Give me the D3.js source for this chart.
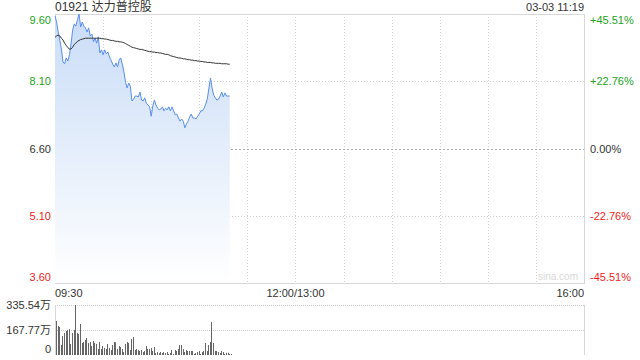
<!DOCTYPE html>
<html>
<head>
<meta charset="utf-8">
<script src="https://cdn.jsdelivr.net/npm/d3@7"></script>
<style>
  body { margin: 0; background: #fff; }
  text { font-family: "Liberation Sans", Arial, "Noto Sans CJK SC", sans-serif; }
</style>
</head>
<body>
<div id="canvas"></div>
<script>
const title = "01921 达力普控股";
const stamp = "03-03 11:19";
const prevClose = 6.60;

const priceTicks = [9.60, 8.10, 6.60, 5.10, 3.60];
const priceLabels = ["9.60", "8.10", "6.60", "5.10", "3.60"];
const pctLabels = ["+45.51%", "+22.76%", "0.00%", "-22.76%", "-45.51%"];
const volTicks = [335.54, 167.77, 0];
const volLabels = ["335.54万", "167.77万", "0"];
const timeTicks = [0, 150, 330];
const timeLabels = ["09:30", "12:00/13:00", "16:00"];

// one value per minute from 09:30
const price = [
  9.56, 9.42, 9.20, 9.02, 8.82, 8.53, 8.49, 8.62, 8.55, 8.69,
  8.93, 9.24, 9.38, 9.33, 9.47, 9.60, 9.31, 9.42, 9.33, 9.29,
  9.20, 9.29, 9.11, 9.15, 8.98, 9.06, 8.95, 9.09, 8.73, 8.80,
  8.69, 8.80, 8.71, 8.75, 8.64, 8.57, 8.48, 8.42, 8.51, 8.42,
  8.57, 8.62, 8.48, 8.31, 8.08, 7.95, 8.06, 7.99, 7.66, 7.70,
  7.77, 7.77, 7.75, 7.86, 7.68, 7.66, 7.73, 7.61, 7.57, 7.53,
  7.32, 7.55, 7.68, 7.57, 7.50, 7.46, 7.48, 7.53, 7.44, 7.50,
  7.46, 7.53, 7.44, 7.53, 7.44, 7.35, 7.37, 7.28, 7.21, 7.26,
  7.21, 7.06, 7.15, 7.21, 7.30, 7.37, 7.28, 7.28, 7.26, 7.32,
  7.37, 7.44, 7.44, 7.50, 7.59, 7.70, 7.95, 8.17, 7.95, 7.79,
  7.73, 7.68, 7.70, 7.77, 7.86, 7.75, 7.84, 7.77, 7.77, 7.77
];
const avgPrice = [
  9.08, 9.11, 9.13, 9.11, 9.06, 9.02, 8.95, 8.90, 8.85, 8.82,
  8.82, 8.86, 8.92, 8.95, 8.99, 9.01, 9.03, 9.04, 9.05, 9.06,
  9.06, 9.06, 9.06, 9.06, 9.06, 9.06, 9.06, 9.06, 9.06, 9.05,
  9.05, 9.04, 9.04, 9.03, 9.02, 9.01, 9.01, 9.00, 8.99, 8.99,
  8.98, 8.98, 8.97, 8.96, 8.94, 8.92, 8.90, 8.88, 8.86, 8.85,
  8.84, 8.83, 8.82, 8.81, 8.81, 8.80, 8.79, 8.78, 8.77, 8.76,
  8.76, 8.75, 8.75, 8.74, 8.74, 8.73, 8.73, 8.72, 8.71, 8.70,
  8.70, 8.69, 8.67, 8.66, 8.65, 8.64, 8.63, 8.62, 8.62, 8.61,
  8.60, 8.60, 8.59, 8.58, 8.58, 8.57, 8.57, 8.56, 8.56, 8.55,
  8.55, 8.54, 8.54, 8.53, 8.53, 8.52, 8.52, 8.52, 8.51, 8.51,
  8.50, 8.50, 8.50, 8.50, 8.49, 8.49, 8.49, 8.49, 8.48, 8.48
];
// volume in 万
const volume = [
  228, 195, 188, 67, 127, 148, 161, 168, 174, 74,
  148, 168, 335.54, 148, 141, 208, 81, 87, 101, 114,
  81, 87, 60, 94, 81, 74, 40, 87, 40, 60,
  47, 40, 74, 47, 34, 67, 87, 85, 40, 60,
  54, 40, 20, 74, 87, 81, 34, 107, 121, 34,
  40, 34, 27, 34, 20, 27, 60, 40, 40, 47,
  27, 54, 13, 20, 13, 20, 13, 20, 13, 20,
  7, 13, 34, 7, 34, 27, 40, 67, 67, 40,
  20, 34, 27, 27, 27, 27, 7, 13, 20, 27,
  7, 20, 27, 81, 27, 67, 87, 221, 81, 27,
  27, 20, 13, 27, 20, 7, 15, 15, 7, 7
];

const width = 640;
const height = 360;
const left = 55, right = 584;
const pTop = 14, pBottom = 283;
const vTop = 305, vBottom = 355;
const green = "#22a322";
const red = "#f01e1e";

const svg = d3.select("#canvas").append("svg")
    .attr("width", width)
    .attr("height", height);

const x = d3.scaleLinear().domain([0, 330]).range([left, right]);
const y = d3.scaleLinear().domain([3.60, 9.60]).range([pBottom, pTop]);
const yv = d3.scaleLinear().domain([0, 335.54]).range([vBottom, vTop]);

const tickColor = (v) => v > prevClose ? green : (v < prevClose ? red : "#333");

// gradient for area
const grad = svg.append("defs").append("linearGradient")
    .attr("id", "fill").attr("x1", 0).attr("y1", 0).attr("x2", 0).attr("y2", 1);
grad.append("stop").attr("offset", "0%").attr("stop-color", "#c9dcf7");
grad.append("stop").attr("offset", "100%").attr("stop-color", "#ffffff");

// grid
const grid = svg.append("g");
[30, 60, 90, 120, 150, 180, 210, 240, 270, 300].forEach((m) => {
  grid.append("line")
      .attr("x1", Math.round(x(m)) + 0.5).attr("x2", Math.round(x(m)) + 0.5)
      .attr("y1", pTop).attr("y2", pBottom)
      .attr("stroke", "#d0d0d0").attr("stroke-dasharray", "1,2");
});
priceTicks.slice(1, -1).forEach((p) => {
  grid.append("line")
      .attr("x1", left).attr("x2", right)
      .attr("y1", Math.round(y(p)) + 0.5).attr("y2", Math.round(y(p)) + 0.5)
      .attr("stroke", p === prevClose ? "#aaa" : "#d0d0d0")
      .attr("stroke-dasharray", p === prevClose ? "2,2" : "1,2");
});
grid.append("rect")
    .attr("x", left + 0.5).attr("y", pTop + 0.5)
    .attr("width", right - left).attr("height", pBottom - pTop)
    .attr("fill", "none").attr("stroke", "#d8d8d8");

// area + lines
const idx = d3.range(price.length);
svg.append("path")
    .datum(idx)
    .attr("fill", "url(#fill)")
    .attr("d", d3.area().x((i) => x(i)).y0(pBottom).y1((i) => y(price[i])));
svg.append("path")
    .datum(idx)
    .attr("fill", "none").attr("stroke", "#5a8ff0").attr("stroke-width", 1)
    .attr("d", d3.line().x((i) => x(i)).y((i) => y(price[i])));
svg.append("path")
    .datum(idx)
    .attr("fill", "none").attr("stroke", "#333").attr("stroke-width", 1)
    .attr("d", d3.line().x((i) => x(i)).y((i) => y(avgPrice[i])));

// price labels
priceTicks.forEach((p, k) => {
  let ty = y(p) + 4;
  if (k === 0) ty = y(p) + 10;
  if (k === priceTicks.length - 1) ty = y(p) - 2;
  svg.append("text")
      .attr("x", left - 4).attr("y", ty)
      .attr("text-anchor", "end").attr("font-size", 11)
      .attr("fill", tickColor(p)).text(priceLabels[k]);
  svg.append("text")
      .attr("x", right + 6).attr("y", ty)
      .attr("font-size", 11)
      .attr("fill", tickColor(p)).text(pctLabels[k]);
});

// time labels
timeTicks.forEach((m, k) => {
  svg.append("text")
      .attr("x", x(m)).attr("y", 297)
      .attr("text-anchor", k === 0 ? "start" : (k === timeTicks.length - 1 ? "end" : "middle"))
      .attr("font-size", 11).attr("fill", "#333")
      .text(timeLabels[k]);
});

// header
svg.append("text").attr("x", left).attr("y", 11)
    .attr("font-size", 12).attr("fill", "#333").text(title);
svg.append("text").attr("x", right).attr("y", 11)
    .attr("text-anchor", "end").attr("font-size", 11).attr("fill", "#333").text(stamp);

// watermark
svg.append("text").attr("x", right - 6).attr("y", 280)
    .attr("text-anchor", "end").attr("font-size", 10).attr("fill", "#d8d8d8").text("sina.com");

// volume panel
volTicks.slice(0, 2).forEach((v) => {
  svg.append("line")
      .attr("x1", left).attr("x2", right)
      .attr("y1", Math.round(yv(v)) + 0.5).attr("y2", Math.round(yv(v)) + 0.5)
      .attr("stroke", "#cfcfcf").attr("stroke-dasharray", "1,1");
});
svg.append("line").attr("x1", left + 0.5).attr("x2", left + 0.5)
    .attr("y1", vTop).attr("y2", vBottom).attr("stroke", "#d8d8d8");
svg.append("line").attr("x1", right + 0.5).attr("x2", right + 0.5)
    .attr("y1", vTop).attr("y2", vBottom).attr("stroke", "#d8d8d8");

svg.append("g").selectAll("rect").data(volume).enter().append("rect")
    .attr("x", (d, i) => Math.round(x(i)) + 1)
    .attr("y", (d) => yv(d))
    .attr("width", 1)
    .attr("height", (d) => vBottom - yv(d))
    .attr("fill", "#666");

volTicks.forEach((v, k) => {
  let ty = yv(v) + 4;
  if (k === volTicks.length - 1) ty = yv(v) - 2;
  svg.append("text")
      .attr("x", left - 4).attr("y", ty)
      .attr("text-anchor", "end").attr("font-size", 11).attr("fill", "#333")
      .text(volLabels[k]);
});
</script>
</body>
</html>
